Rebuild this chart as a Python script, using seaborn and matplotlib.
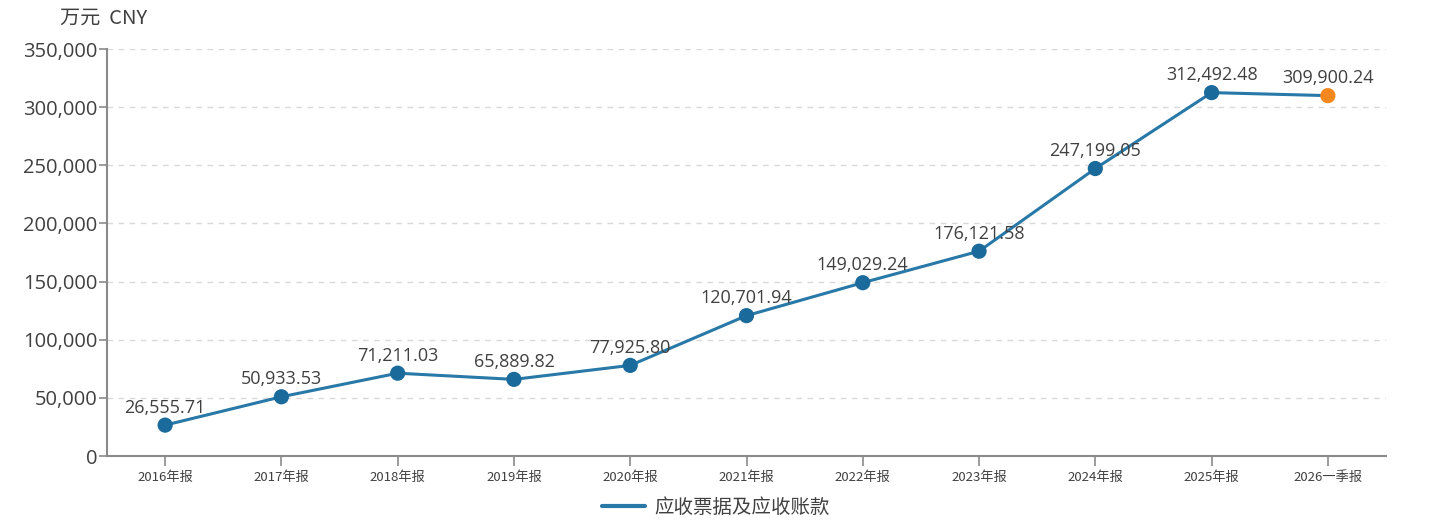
import matplotlib
matplotlib.use("Agg")
import matplotlib.pyplot as plt
import seaborn as sns
import pandas as pd
from matplotlib.ticker import FuncFormatter, MultipleLocator
from matplotlib.lines import Line2D

periods = ["2016年报", "2017年报", "2018年报", "2019年报", "2020年报", "2021年报",
           "2022年报", "2023年报", "2024年报", "2025年报", "2026一季报"]
values = [26555.71, 50933.53, 71211.03, 65889.82, 77925.80, 120701.94,
          149029.24, 176121.58, 247199.05, 312492.48, 309900.24]
kinds = ["年报"] * 10 + ["季报"]
series_name = "应收票据及应收账款"
unit_label = "万元  CNY"

sns.set_theme(style="white")
plt.rcParams['font.family'] = ['Open Sans', 'Noto Sans CJK SC', 'DejaVu Sans']

df = pd.DataFrame({"pos": range(len(periods)), "period": periods,
                   "value": values, "kind": kinds})

line_color = "#2878a8"
dot_blue = "#1b6a9c"
dot_orange = "#f5871f"
axis_gray = "#8a8a8a"
text_gray = "#404040"

fig = plt.figure(figsize=(14.38, 5.22), dpi=100)
ax = fig.add_axes([107/1438, 1-456/522, (1386-107)/1438, (456-49)/522])

sns.lineplot(data=df, x="pos", y="value", ax=ax, color=line_color, linewidth=2.2,
             legend=False, zorder=3)
sns.scatterplot(data=df, x="pos", y="value", hue="kind",
                palette={"年报": dot_blue, "季报": dot_orange},
                s=120, edgecolor="none", ax=ax, legend=False, zorder=4)

for x, v in zip(df["pos"], df["value"]):
    ax.annotate(f"{v:,.2f}", (x, v), xytext=(0, 6), textcoords="offset points",
                ha="center", va="bottom", fontsize=13, color=text_gray, zorder=5)

ax.set_xlim(-0.5, len(periods) - 0.5)
ax.set_ylim(0, 350000)
ax.yaxis.set_major_locator(MultipleLocator(50000))
ax.yaxis.set_major_formatter(FuncFormatter(lambda v, p: f"{int(v):,}"))
ax.set_xticks(range(len(periods)))
ax.set_xticklabels(periods, fontsize=9.5, color=text_gray,
                   family=['Noto Sans CJK SC', 'DejaVu Sans'])
ax.tick_params(axis="y", labelsize=14.5, labelcolor=text_gray, length=6,
               width=1.2, color=axis_gray, left=True, pad=1)
ax.tick_params(axis="x", length=7, width=1.2, color=axis_gray, bottom=True, pad=4)
ax.set_xlabel("")
ax.set_ylabel("")

ax.grid(axis="y", color="#d9d9d9", linestyle=(0, (4, 4)), linewidth=1)
ax.grid(axis="x", visible=False)
for side in ["top", "right"]:
    ax.spines[side].set_visible(False)
for side in ["left", "bottom"]:
    ax.spines[side].set_color(axis_gray)
    ax.spines[side].set_linewidth(1.5)

fig.text(60/1438, 1-18/522, unit_label, fontsize=14.5, color=text_gray,
         ha="left", va="center", family=['Noto Sans CJK SC', 'DejaVu Sans'])

handle = Line2D([], [], color=line_color, linewidth=3)
fig.legend([handle], [series_name], loc="center", bbox_to_anchor=(716/1438, 1-507/522),
           frameon=False, handlelength=2.2, handletextpad=0.5,
           prop={'family': ['Noto Sans CJK SC', 'DejaVu Sans'], 'size': 14},
           labelcolor=text_gray)

fig.savefig("out.png", dpi=100, facecolor="white")
